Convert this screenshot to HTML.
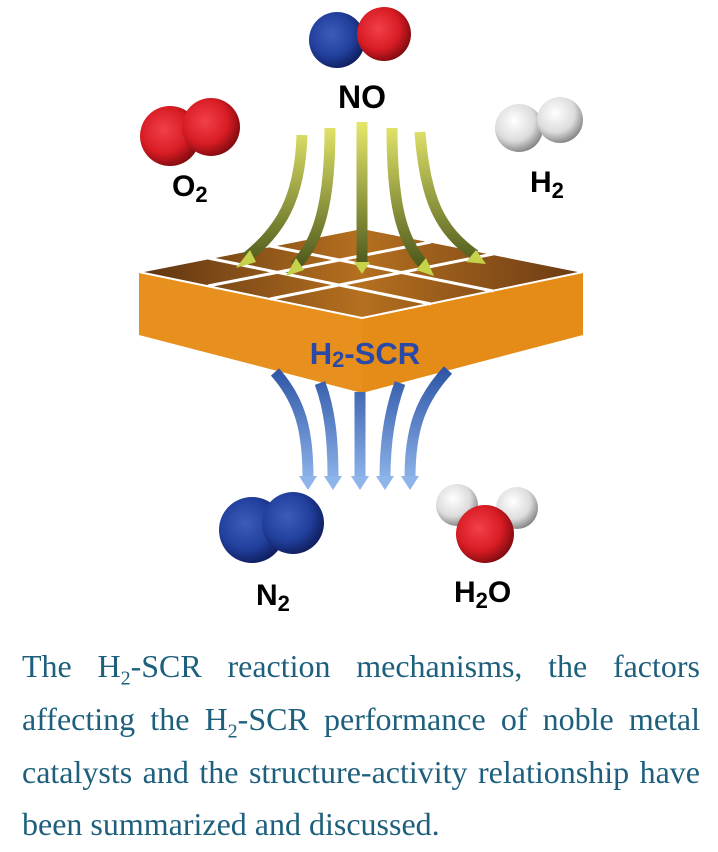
<!DOCTYPE html>
<html><head><meta charset="utf-8"><style>
body{margin:0;background:#fff;width:718px;height:852px;overflow:hidden;position:relative}
.t{position:absolute;left:22px;width:678px;font-family:"Liberation Serif",serif;font-size:32px;color:#1d5f7c;text-align:justify;text-align-last:justify;white-space:nowrap}
</style></head><body>
<svg width="718" height="640" style="position:absolute;left:0;top:0">
<defs>
<radialGradient id="red" cx="0.4" cy="0.4" r="0.65"><stop offset="0" stop-color="#f2404a"/><stop offset="0.6" stop-color="#d81c24"/><stop offset="1" stop-color="#7a0a0e"/></radialGradient>
<radialGradient id="blue" cx="0.4" cy="0.4" r="0.65"><stop offset="0" stop-color="#3d5bb8"/><stop offset="0.6" stop-color="#213f9c"/><stop offset="1" stop-color="#0e1c5a"/></radialGradient>
<radialGradient id="wh" cx="0.4" cy="0.35" r="0.7"><stop offset="0" stop-color="#ffffff"/><stop offset="0.6" stop-color="#dcdcdc"/><stop offset="1" stop-color="#7a7a7a"/></radialGradient>
<linearGradient id="gr" gradientUnits="userSpaceOnUse" x1="0" y1="125" x2="0" y2="265"><stop offset="0" stop-color="#e3e56a"/><stop offset="1" stop-color="#4e5a1c"/></linearGradient>
<linearGradient id="bl" gradientUnits="userSpaceOnUse" x1="0" y1="370" x2="0" y2="480"><stop offset="0" stop-color="#2f56a6"/><stop offset="1" stop-color="#8db3ea"/></linearGradient>
<linearGradient id="top" x1="0" y1="0" x2="1" y2="0"><stop offset="0" stop-color="#5e3412"/><stop offset="0.5" stop-color="#b5701f"/><stop offset="1" stop-color="#6a3a14"/></linearGradient>
</defs>
<circle cx="337" cy="40" r="28" fill="url(#blue)"/>
<circle cx="384" cy="34" r="27" fill="url(#red)"/>
<text x="362" y="108" font-family="Liberation Sans" font-weight="bold" font-size="32" text-anchor="middle">NO</text>
<circle cx="170" cy="136" r="30" fill="url(#red)"/>
<circle cx="211" cy="127" r="29" fill="url(#red)"/>
<text x="172" y="196" font-family="Liberation Sans" font-weight="bold" font-size="30">O<tspan font-size="22" dy="6">2</tspan></text>
<circle cx="519" cy="128" r="24" fill="url(#wh)"/>
<circle cx="560" cy="120" r="23" fill="url(#wh)"/>
<text x="530" y="192" font-family="Liberation Sans" font-weight="bold" font-size="30">H<tspan font-size="22" dy="6">2</tspan></text>
<polygon points="139,272 362,318 362,393 139,335" fill="#e8901e"/>
<polygon points="362,318 583,272 583,335 362,393" fill="#e58c18"/>
<polygon points="139,272 362,228 583,272 362,318" fill="url(#top)"/>
<g stroke="#fff" stroke-width="3">
<line x1="208" y1="258" x2="431" y2="304"/>
<line x1="270" y1="246" x2="493" y2="291"/>
<line x1="208" y1="286" x2="431" y2="242"/>
<line x1="270" y1="299" x2="493" y2="254"/>
</g>
<polygon points="139,272 362,228 583,272 362,318" fill="none" stroke="#fff" stroke-width="2"/>
<text x="365" y="364" font-family="Liberation Sans" font-weight="bold" font-size="31" fill="#2a48a8" text-anchor="middle">H<tspan font-size="22" dy="3">2</tspan><tspan dy="-3">-SCR</tspan></text>
<g fill="none" stroke="url(#gr)" stroke-width="11">
<path d="M302,135 C300,200 280,230 246,258"/>
<path d="M330,128 C330,200 320,240 295,266"/>
<path d="M362,122 L362,262"/>
<path d="M392,128 C392,200 400,240 425,266"/>
<path d="M420,132 C425,200 440,230 475,255"/>
</g>
<g fill="#c6d24a">
<polygon points="236,268 250,250 256,262"/>
<polygon points="286,276 296,258 304,270"/>
<polygon points="354,262 370,262 362,274"/>
<polygon points="434,276 416,270 426,258"/>
<polygon points="486,264 466,262 476,250"/>
</g>
<g fill="none" stroke="url(#bl)" stroke-width="11">
<path d="M275,372 C300,400 308,430 308,478"/>
<path d="M320,383 C330,410 333,440 333,478"/>
<path d="M360,392 L360,478"/>
<path d="M400,383 C390,410 385,440 385,478"/>
<path d="M448,370 C420,400 410,430 410,478"/>
</g>
<g fill="#8fb4ea">
<polygon points="299,476 317,476 308,490"/>
<polygon points="324,476 342,476 333,490"/>
<polygon points="351,476 369,476 360,490"/>
<polygon points="376,476 394,476 385,490"/>
<polygon points="401,476 419,476 410,490"/>
</g>
<circle cx="252" cy="530" r="33" fill="url(#blue)"/>
<circle cx="293" cy="523" r="31" fill="url(#blue)"/>
<text x="256" y="605" font-family="Liberation Sans" font-weight="bold" font-size="30">N<tspan font-size="22" dy="6">2</tspan></text>
<circle cx="457" cy="505" r="21" fill="url(#wh)"/>
<circle cx="517" cy="508" r="21" fill="url(#wh)"/>
<circle cx="485" cy="534" r="29" fill="url(#red)"/>
<text x="454" y="602" font-family="Liberation Sans" font-weight="bold" font-size="30">H<tspan font-size="22" dy="6">2</tspan><tspan dy="-6">O</tspan></text>
</svg>
<div class="t" style="top:648px">The H<sub style="font-size:20px">2</sub>-SCR reaction mechanisms, the factors</div>
<div class="t" style="top:701px">affecting the H<sub style="font-size:20px">2</sub>-SCR performance of noble metal</div>
<div class="t" style="top:754px">catalysts and the structure-activity relationship have</div>
<div class="t" style="top:806px;text-align-last:left">been summarized and discussed.</div>
</body></html>
